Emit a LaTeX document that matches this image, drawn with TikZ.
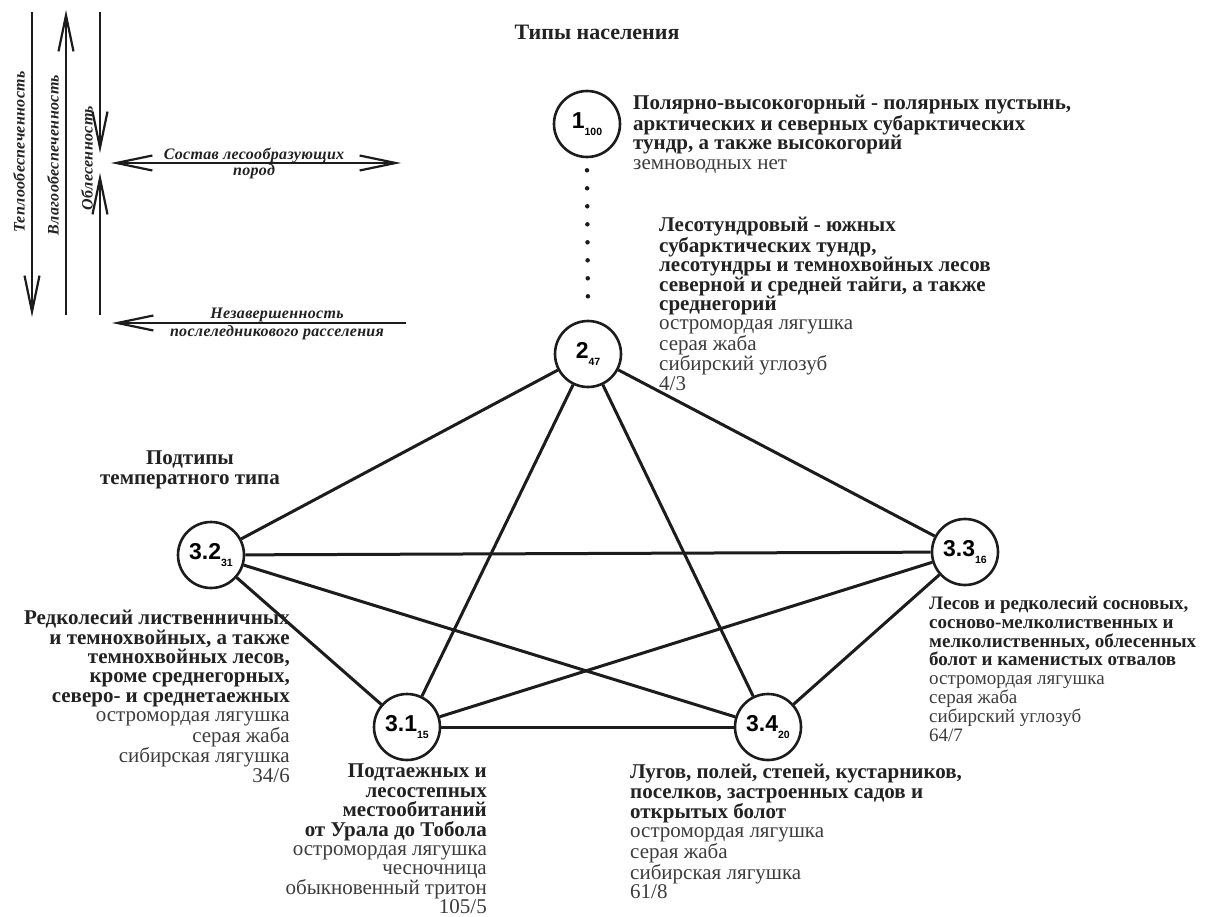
\documentclass[tikz,border=0pt]{standalone}
\usepackage{fontspec}
\setmainfont{Liberation Serif}
\newfontfamily\sanslab{Liberation Sans}
\usetikzlibrary{arrows.meta}
\definecolor{ink}{HTML}{1C1C1C}
\definecolor{txtb}{HTML}{222222}
\definecolor{txtr}{HTML}{3C3C3C}
\newcommand\rg[1]{{\color{txtr}\mdseries #1}}
\newcommand\clab[2]{{\sanslab\bfseries\fontsize{23}{23}\selectfont #1}\raisebox{-7pt}{\sanslab\bfseries\fontsize{10.5}{10.5}\selectfont #2}}
\tikzset{
  circ/.style={circle, draw=ink, line width=2.6pt, minimum size=66pt, inner sep=0pt, fill=white},
  link/.style={draw=ink, line width=3pt},
  dots/.style={draw=ink, line width=4.5pt, line cap=round, dash pattern=on 0pt off 18pt},
  blk/.style={inner sep=0pt, text=txtb, font=\fontsize{21}{19.4}\selectfont\bfseries},
  blks/.style={inner sep=0pt, text=txtb, font=\fontsize{19}{18.9}\selectfont\bfseries},
  axlab/.style={inner sep=0pt, text=txtb, font=\fontsize{16}{16}\selectfont\bfseries\itshape\addfontfeatures{LetterSpace=2}},
  axarr/.style={draw=ink, line width=2.2pt, -{Straight Barb[length=36pt,width=15pt,line width=2.2pt]}},
  axarrb/.style={draw=ink, line width=2.2pt, {Straight Barb[length=36pt,width=15pt,line width=2.2pt]}-{Straight Barb[length=36pt,width=15pt,line width=2.2pt]}}
}
\begin{document}
\begin{tikzpicture}[x=1pt,y=-1pt]
\useasboundingbox[fill=white] (0,0) rectangle (1232,917);

% title
\node[blk, font=\fontsize{22}{24}\selectfont\bfseries] (title) at (597,32) {Типы населения};

% axes (top left)
\coordinate (a1t) at (32,12);  \coordinate (a1b) at (32,317);
\coordinate (a2t) at (66,10);  \coordinate (a2b) at (66,315);
\coordinate (a3t) at (100,12); \coordinate (a3m) at (100,153);
\coordinate (a3b) at (100,315); \coordinate (a3n) at (100,173);
\coordinate (hl) at (111,163); \coordinate (hr) at (401,163);
\coordinate (bl) at (112,323); \coordinate (br) at (406,323);
\draw[axarr] (a1t) -- (a1b);
\draw[axarr] (a2b) -- (a2t);
\draw[axarr] (a3t) -- (a3m);
\draw[axarr] (a3b) -- (a3n);
\draw[axarrb] (hl) -- (hr);
\draw[axarr] (br) -- (bl);
\node[axlab, rotate=90] (l1) at (19,152) {Теплообеспеченность};
\node[axlab, rotate=90] (l2) at (53,155) {Влагообеспеченность};
\node[axlab, rotate=90] (l3) at (87,158) {Облесенность};
\node[axlab, anchor=base] (l4) at (254,160) {Состав лесообразующих};
\node[axlab, anchor=base] (l5) at (254,176) {пород};
\node[axlab, anchor=base] (l6) at (277,319) {Незавершенность};
\node[axlab, anchor=base] (l7) at (277,337) {послеледникового расселения};

% nodes
\node[circ] (n1) at (587,124) {\clab{1}{100}};
\node[circ] (n2) at (588,354) {\clab{2}{47}};
\node[circ] (n32) at (211,555) {\clab{3.2}{31}};
\node[circ] (n33) at (965,552) {\clab{3.3}{16}};
\node[circ] (n31) at (407,727) {\clab{3.1}{15}};
\node[circ] (n34) at (768,727) {\clab{3.4}{20}};

% connectors
\draw[dots] ([yshift=-12pt]n1.south) -- ([yshift=8pt]n2.north);
\draw[link] (n2) -- (n32);
\draw[link] (n2) -- (n33);
\draw[link] (n2) -- (n31);
\draw[link] (n2) -- (n34);
\draw[link] (n32) -- (n33);
\draw[link] (n32) -- (n31);
\draw[link] (n32) -- (n34);
\draw[link] (n33) -- (n31);
\draw[link] (n33) -- (n34);
\draw[link] (n31) -- (n34);

% texts
\node[blk, anchor=north west, align=left] (t1) at (633,95)
 {Полярно-высокогорный - полярных пустынь,\\
  арктических и северных субарктических\\
  тундр, а также высокогорий\\
  \rg{земноводных нет}};
\node[blk, anchor=north west, align=left] (t2) at (659,217)
 {Лесотундровый - южных\\
  субарктических тундр,\\
  лесотундры и темнохвойных лесов\\
  северной и средней тайги, а также\\
  среднегорий\\
  \rg{остромордая лягушка}\\
  \rg{серая жаба}\\
  \rg{сибирский углозуб}\\
  \rg{4/3}};
\node[blk, align=center] (sub) at (190,470)
 {Подтипы\\температного типа};
\node[blk, anchor=north east, align=right] (t32) at (290,610)
 {Редколесий лиственничных\\
  и темнохвойных, а также\\
  темнохвойных лесов,\\
  кроме среднегорных,\\
  северо- и среднетаежных\\
  \rg{остромордая лягушка}\\
  \rg{серая жаба}\\
  \rg{сибирская лягушка}\\
  \rg{34/6}};
\node[blks, anchor=north west, align=left] (t33) at (929,596)
 {Лесов и редколесий сосновых,\\
  сосново-мелколиственных и\\
  мелколиственных, облесенных\\
  болот и каменистых отвалов\\
  \rg{остромордая лягушка}\\
  \rg{серая жаба}\\
  \rg{сибирский углозуб}\\
  \rg{64/7}};
\node[blk, anchor=north east, align=right] (t31) at (487,764)
 {Подтаежных и\\
  лесостепных\\
  местообитаний\\
  от Урала до Тобола\\
  \rg{остромордая лягушка}\\
  \rg{чесночница}\\
  \rg{обыкновенный тритон}\\
  \rg{105/5}};
\node[blk, anchor=north west, align=left] (t34) at (630,764)
 {Лугов, полей, степей, кустарников,\\
  поселков, застроенных садов и\\
  открытых болот\\
  \rg{остромордая лягушка}\\
  \rg{серая жаба}\\
  \rg{сибирская лягушка}\\
  \rg{61/8}};
\end{tikzpicture}
\end{document}
